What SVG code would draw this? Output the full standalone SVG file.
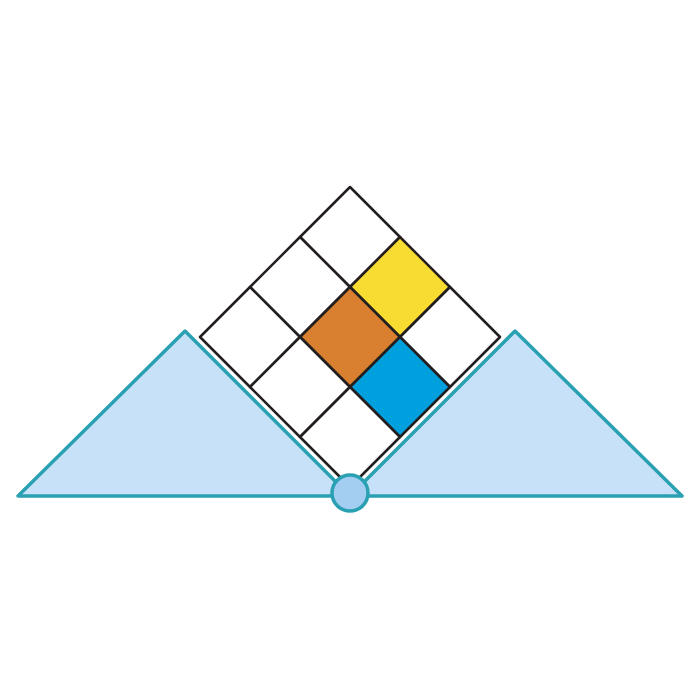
<svg xmlns="http://www.w3.org/2000/svg" width="700" height="700" viewBox="0 0 700 700">
<style>
.tri{fill:#c7e2f8;stroke:#2aa0b3;stroke-width:3.5;stroke-linejoin:round}
.cell{stroke:#231f20;stroke-width:2.5;stroke-linejoin:round}
.w{fill:#ffffff}
.y{fill:#f8dc32}
.o{fill:#d97f30}
.b{fill:#00a0df}
</style>
<rect width="700" height="700" fill="#ffffff"/>
<g id="left-triangle"><polygon class="tri" points="18,496 185,331 350,496"/></g>
<g id="right-triangle"><polygon class="tri" points="350,496 515,331 682,496"/></g>
<g id="grid">
<polygon class="cell w" points="350,187 400,237 350,287 300,237"/>
<polygon class="cell y" points="400,237 450,287 400,337 350,287"/>
<polygon class="cell w" points="450,287 500,337 450,387 400,337"/>
<polygon class="cell w" points="300,237 350,287 300,337 250,287"/>
<polygon class="cell o" points="350,287 400,337 350,387 300,337"/>
<polygon class="cell b" points="400,337 450,387 400,437 350,387"/>
<polygon class="cell w" points="250,287 300,337 250,387 200,337"/>
<polygon class="cell w" points="300,337 350,387 300,437 250,387"/>
<polygon class="cell w" points="350,387 400,437 350,487 300,437"/>
</g>
<g id="pivot"><circle cx="350" cy="493" r="18" fill="#a3cdf1" stroke="#2aa0b3" stroke-width="3.5"/></g>
</svg>
